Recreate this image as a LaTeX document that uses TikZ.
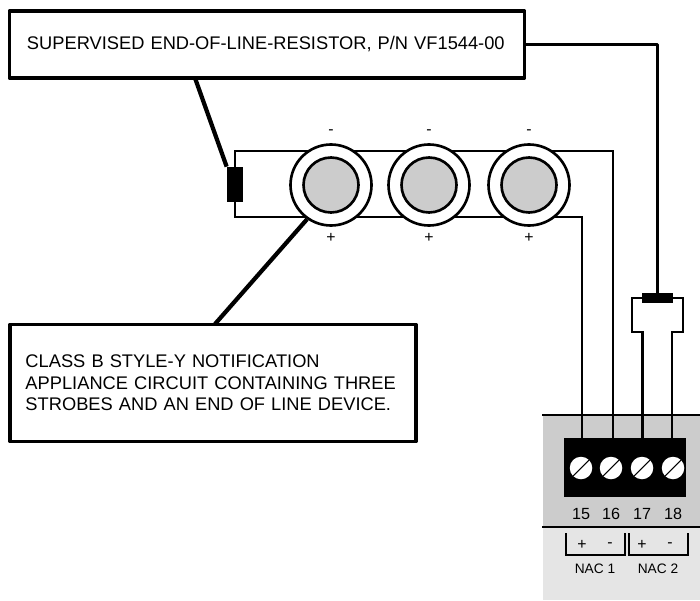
\documentclass[tikz,border=0pt]{standalone}
\usepackage{fontspec}
\setmainfont{Liberation Sans}
\definecolor{panelgray}{gray}{0.8}
\definecolor{panellight}{gray}{0.9}
\tikzset{
	notebox/.style={draw, line width=2.2pt, line join=round, rectangle, inner sep=0pt, font=\fontsize{10.4}{12.3}\selectfont},
	leader/.style={line width=2.4pt},
	feedline/.style={line width=1.9pt, line join=round},
	wire/.style={line width=1.3pt},
	eolres/.style={fill=black, draw=none, rectangle, inner sep=0pt},
	strobeout/.style={circle, draw, fill=white, line width=1.5pt, minimum size=16.2mm, inner sep=0pt},
	strobein/.style={circle, draw, fill=panelgray, line width=1.5pt, minimum size=11mm, inner sep=0pt},
	screwhead/.style={circle, fill=white, minimum size=4.5mm, inner sep=0pt},
	smalltxt/.style={font=\fontsize{7.8}{9}\selectfont, inner sep=0pt},
	signtxt/.style={font=\fontsize{9}{10}\selectfont, inner sep=0pt},
	termtxt/.style={font=\fontsize{9.2}{11}\selectfont, inner sep=0pt}
}
\begin{document}
\begin{tikzpicture}[x=0.2mm, y=-0.2mm]
	\useasboundingbox (0,0) rectangle (700,600);
	% panel
	\fill[panelgray] (543,415) rectangle (700,527);
	\fill[panellight] (543,527) rectangle (700,600);
	\node[fill=black, minimum width=24.4mm, minimum height=11.8mm, inner sep=0pt] (block) at (625,467.5) {};
	\coordinate (panelL) at (542,415);
	\coordinate (panelR) at (700,415);
	\coordinate (splitL) at (542,527);
	\coordinate (splitR) at (700,527);
	\draw[wire] (panelL) -- (panelR);
	\draw[wire] (splitL) -- (splitR);
	% text boxes
	\node[notebox, minimum width=103mm, minimum height=13.4mm, text width=96mm, align=left] (endnote) at (267,44.5) {SUPERVISED END-OF-LINE-RESISTOR, P/N VF1544-00};
	\node[notebox, minimum width=81.2mm, minimum height=23.4mm, text width=75mm, align=left] (classnote) at (213,383) {CLASS B STYLE-Y NOTIFICATION\\APPLIANCE CIRCUIT CONTAINING THREE\\STROBES AND AN END OF LINE DEVICE.};
	% end of line resistors
	\node[eolres, minimum width=3.2mm, minimum height=7mm] (res1) at (235,184.5) {};
	\node[eolres, minimum width=6.2mm, minimum height=2mm] (res2) at (657.5,298) {};
	% terminal points
	\coordinate (c15) at (582,438);
	\coordinate (c16) at (613,438);
	\coordinate (c17) at (642.5,438);
	\coordinate (c18) at (672,438);
	\coordinate (looptop) at (613,151);
	\coordinate (loopbot) at (582,217);
	\coordinate (neckL) at (632,332);
	\coordinate (neckR) at (683,332);
	% wires
	\draw[wire] (res1.north) |- (looptop) -- (c16);
	\draw[wire] (res1.south) |- (loopbot) -- (c15);
	\draw[wire] (res2.west) -| (neckL) -| (c17);
	\draw[wire] (res2.east) -| (neckR) -| (c18);
	% strobes
	\foreach \name/\xpos in {s1/331, s2/429, s3/529} {
		\node[strobeout] (\name) at (\xpos,185) {};
		\node[strobein] (\name i) at (\xpos,185) {};
		\node[signtxt] at (\xpos,132) {-};
		\node[signtxt] at (\xpos,238) {+};
	}
	% leaders
	\draw[leader] (195,78) -- (res1.north west);
	\draw[feedline] (endnote.east) -| (res2.north);
	\draw[leader] (s1.235) -- (215,324);
	% screws
	\foreach \name/\xpos/\num in {t15/581/15, t16/611/16, t17/642/17, t18/673/18} {
		\node[screwhead] (\name) at (\xpos,468) {};
		\draw[line width=0.6pt] (\name.south west) -- (\name.north east);
		\node[termtxt] at (\xpos,514) {\num};
	}
	% NAC brackets
	\coordinate (n1a) at (566,533);
	\coordinate (n1b) at (625,533);
	\coordinate (n2a) at (629,533);
	\coordinate (n2b) at (688,533);
	\draw[wire] (n1a) |- (595,555) -| (n1b);
	\draw[wire] (n2a) |- (658,555) -| (n2b);
	\node[signtxt] at (582,545) {+};
	\node[signtxt] at (610,545) {-};
	\node[signtxt] at (642,545) {+};
	\node[signtxt] at (670,545) {-};
	\node[smalltxt] at (595,569) {NAC 1};
	\node[smalltxt] at (658,569) {NAC 2};
\end{tikzpicture}
\end{document}
